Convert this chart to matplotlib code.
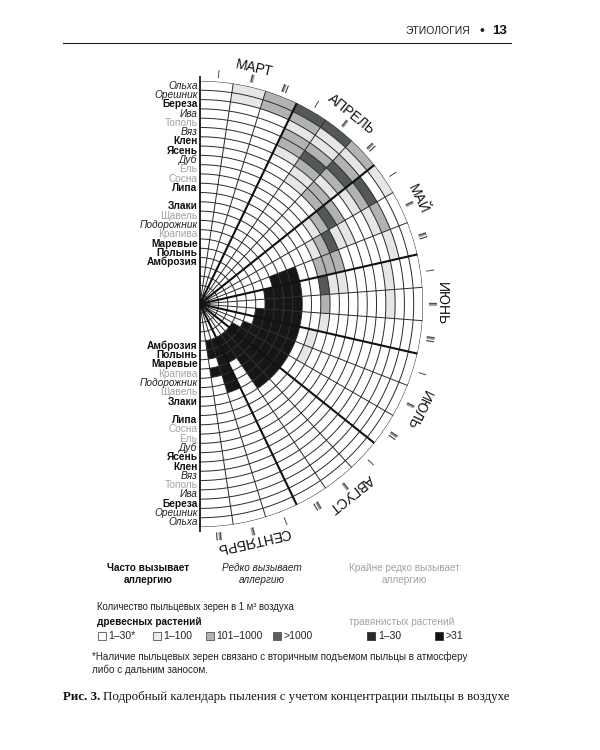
import numpy as np
import matplotlib
matplotlib.use('Agg')
import matplotlib.pyplot as plt
from matplotlib import transforms
from matplotlib.patches import Rectangle
from matplotlib.lines import Line2D

plt.rcParams['font.family'] = ['Liberation Sans', 'DejaVu Sans']

# ---------------- data ----------------
months = ['МАРТ', 'АПРЕЛЬ', 'МАЙ', 'ИЮНЬ', 'ИЮЛЬ', 'АВГУСТ', 'СЕНТЯБРЬ']
decade_names = ['I', 'II', 'III']

plants = ['Ольха', 'Орешник', 'Береза', 'Ива', 'Тополь', 'Вяз', 'Клен', 'Ясень',
          'Дуб', 'Ель', 'Сосна', 'Липа', '',
          'Злаки', 'Щавель', 'Подорожник', 'Крапива', 'Маревые', 'Полынь', 'Амброзия']
# b = often allergenic (bold), i = rarely (italic), g = very rarely (gray)
plant_style = ['i', 'i', 'b', 'i', 'g', 'i', 'b', 'b',
               'i', 'g', 'g', 'b', '',
               'b', 'g', 'i', 'g', 'b', 'b', 'b']

# pollen level per decade (March I ... September III)
# 0 none, 1 = 1-100, 2 = 101-1000, 3 = >1000 (trees); 4 = 1-30, 5 = >31 (grasses)
levels = {
    'Ольха':      [0, 1, 2, 3, 3, 2, 1, 0, 0, 0, 0, 0, 0, 0, 0, 0, 0, 0, 0, 0, 0],
    'Орешник':    [0, 1, 2, 2, 1, 1, 0, 0, 0, 0, 0, 0, 0, 0, 0, 0, 0, 0, 0, 0, 0],
    'Береза':     [0, 0, 0, 1, 1, 2, 3, 2, 1, 0, 0, 0, 0, 0, 0, 0, 0, 0, 0, 0, 0],
    'Ива':        [0, 0, 0, 2, 2, 3, 2, 1, 0, 1, 1, 0, 0, 0, 0, 0, 0, 0, 0, 0, 0],
    'Тополь':     [0, 0, 0, 2, 3, 2, 1, 0, 0, 0, 0, 0, 0, 0, 0, 0, 0, 0, 0, 0, 0],
    'Вяз':        [0, 0, 0, 1, 2, 1, 0, 0, 0, 0, 0, 0, 0, 0, 0, 0, 0, 0, 0, 0, 0],
    'Клен':       [0, 0, 0, 0, 1, 2, 2, 1, 0, 0, 0, 0, 0, 0, 0, 0, 0, 0, 0, 0, 0],
    'Ясень':      [0, 0, 0, 0, 1, 2, 3, 1, 0, 0, 0, 0, 0, 0, 0, 0, 0, 0, 0, 0, 0],
    'Дуб':        [0, 0, 0, 0, 0, 0, 2, 3, 2, 1, 0, 0, 0, 0, 0, 0, 0, 0, 0, 0, 0],
    'Ель':        [0, 0, 0, 0, 0, 0, 1, 2, 2, 1, 0, 0, 0, 0, 0, 0, 0, 0, 0, 0, 0],
    'Сосна':      [0, 0, 0, 0, 0, 0, 0, 1, 2, 3, 2, 1, 0, 0, 0, 0, 0, 0, 0, 0, 0],
    'Липа':       [0, 0, 0, 0, 0, 0, 0, 0, 0, 0, 0, 0, 1, 1, 0, 0, 0, 0, 0, 0, 0],
    '':           [0] * 21,
    'Злаки':      [0, 0, 0, 0, 0, 0, 0, 0, 5, 5, 5, 5, 5, 5, 5, 5, 5, 0, 0, 0, 0],
    'Щавель':     [0, 0, 0, 0, 0, 0, 0, 0, 5, 5, 5, 5, 5, 5, 5, 5, 5, 0, 5, 0, 0],
    'Подорожник': [0, 0, 0, 0, 0, 0, 0, 0, 5, 5, 5, 5, 5, 5, 5, 5, 5, 0, 5, 0, 0],
    'Крапива':    [0, 0, 0, 0, 0, 0, 0, 0, 0, 5, 5, 5, 5, 5, 5, 5, 5, 0, 5, 5, 0],
    'Маревые':    [0, 0, 0, 0, 0, 0, 0, 0, 0, 0, 0, 5, 5, 5, 5, 5, 5, 5, 5, 0, 0],
    'Полынь':     [0, 0, 0, 0, 0, 0, 0, 0, 0, 0, 0, 0, 0, 5, 5, 5, 5, 5, 5, 5, 0],
    'Амброзия':   [0, 0, 0, 0, 0, 0, 0, 0, 0, 0, 0, 0, 0, 0, 5, 5, 5, 5, 5, 5, 0],
}

level_colors = {1: '#e6e6e6', 2: '#b2b2b2', 3: '#535953', 4: '#262626', 5: '#161616'}
tree_legend = [('1–30*', '#ffffff'), ('1–100', '#ececec'), ('101–1000', '#b2b2b2'), ('>1000', '#5a605a')]
grass_legend = [('1–30', '#2a2a2a'), ('>31', '#111111')]

N_RING = 24
N_DEC = len(months) * 3
GRAY = '#a3a3a3'

# ---------------- figure ----------------
W, H = 600, 750
fig = plt.figure(figsize=(W / 100, H / 100), dpi=100)
fig.patch.set_facecolor('white')

def fx(x):
    return x / W

def fy(y):
    return 1 - y / H

cx, cy, R = 200, 304, 223
# the polar half-disk sits inside a square box of side 2R whose centre is at cx + R/2
ax = fig.add_axes([fx(cx - R / 2), fy(cy + R), 2 * R / W, 2 * R / H], projection='polar')
ax.set_theta_zero_location('N')
ax.set_theta_direction(-1)
ax.set_thetamin(0)
ax.set_thetamax(180)
ax.set_ylim(0, N_RING)
ax.axis('off')

dw = np.pi / N_DEC
# cells
for k, p in enumerate(plants):
    vals = levels[p]
    for d, v in enumerate(vals):
        if v:
            ax.bar((d + 0.5) * dw, 1, width=dw, bottom=N_RING - k - 1,
                   color=level_colors[v], edgecolor='none', linewidth=0, zorder=1)

# ring circles
th = np.linspace(0, np.pi, 400)
for r in range(1, N_RING + 1):
    ax.plot(th, np.full_like(th, r), color='#2a2a2a', lw=0.7, zorder=3)
# radial lines
for j in range(1, N_DEC):
    t = j * dw
    if j % 3 == 0:
        ax.plot([t, t], [0, N_RING], color='#111111', lw=1.5, zorder=4)
    else:
        ax.plot([t, t], [0, N_RING], color='#2a2a2a', lw=0.7, zorder=3)
# vertical axis
ax.plot([0, 0], [0, N_RING + 0.4], color='#111111', lw=1.3, zorder=5, clip_on=False)
ax.plot([np.pi, np.pi], [0, N_RING + 0.4], color='#111111', lw=1.3, zorder=5, clip_on=False)

# decade numerals and month names
for m, name in enumerate(months):
    for s, dn in enumerate(decade_names):
        t = (m * 3 + s + 0.5) * dw
        ax.text(t, N_RING + 0.75, dn, rotation=-np.degrees(t), rotation_mode='anchor',
                ha='center', va='center', fontsize=7, color='#222222')
    t = (m * 3 + 1.5) * dw
    ax.text(t, N_RING + 2.05, name, rotation=-np.degrees(t), rotation_mode='anchor',
            ha='center', va='center', fontsize=10, color='#111111')

# plant labels (top and bottom)
off = transforms.offset_copy(ax.transData, fig=fig, x=-2.5, y=0, units='dots')
for k, p in enumerate(plants):
    if not p:
        continue
    st = plant_style[k]
    kw = dict(fontsize=7.3, ha='right', va='center', transform=off)
    if st == 'b':
        kw.update(fontweight='bold', color='#111111')
    elif st == 'i':
        kw.update(style='italic', color='#222222')
    else:
        kw.update(color=GRAY)
    rc = N_RING - k - 0.5
    ax.text(0, rc, p, **kw)
    ax.text(np.pi, rc, p, **kw)

# ---------------- header ----------------
fig.add_artist(Line2D([fx(63), fx(511)], [fy(43), fy(43)], color='#222222', lw=0.8))
fig.text(fx(470), fy(31), 'ЭТИОЛОГИЯ', ha='right', va='center', fontsize=7.5, color='#222222')
fig.text(fx(482), fy(31), '•', ha='center', va='center', fontsize=10, color='#222222')
fig.text(fx(492), fy(31), '13', ha='left', va='center', fontsize=9.5, fontweight='bold', color='#111111')

# ---------------- legend ----------------
fig.text(fx(148), fy(574), 'Часто вызывает\nаллергию', ha='center', va='center',
         fontsize=7.2, fontweight='bold', color='#111111', linespacing=1.3)
fig.text(fx(262), fy(574), 'Редко вызывает\nаллергию', ha='center', va='center',
         fontsize=7.2, style='italic', color='#222222', linespacing=1.3)
fig.text(fx(404), fy(574), 'Крайне редко вызывает\nаллергию', ha='center', va='center',
         fontsize=7.2, color=GRAY, linespacing=1.3)
fig.text(fx(97), fy(607), 'Количество пыльцевых зерен в 1 м³ воздуха', ha='left', va='center',
         fontsize=6.9, color='#222222')
fig.text(fx(97), fy(622), 'древесных растений', ha='left', va='center',
         fontsize=7.2, fontweight='bold', color='#111111')
fig.text(fx(349), fy(622), 'травянистых растений', ha='left', va='center',
         fontsize=7.2, color=GRAY)

tree_x = [98, 153, 206, 273]
for (lab, col), x0 in zip(tree_legend, tree_x):
    fig.add_artist(Rectangle((fx(x0), fy(640)), 8 / W, 8 / H, facecolor=col,
                             edgecolor='#555555', lw=0.6))
    fig.text(fx(x0 + 10), fy(636), lab, ha='left', va='center', fontsize=7.5, color='#222222')
grass_x = [367, 435]
for (lab, col), x0 in zip(grass_legend, grass_x):
    fig.add_artist(Rectangle((fx(x0), fy(640)), 8 / W, 8 / H, facecolor=col,
                             edgecolor='#333333', lw=0.6))
    fig.text(fx(x0 + 11), fy(636), lab, ha='left', va='center', fontsize=7.5, color='#222222')

fig.text(fx(92), fy(663), '*Наличие пыльцевых зерен связано с вторичным подъемом пыльцы в атмосферу\n'
         'либо с дальним заносом.', ha='left', va='center', fontsize=7.1, color='#222222',
         linespacing=1.3)

# ---------------- caption ----------------
fig.text(fx(63), fy(697), 'Рис. 3.', ha='left', va='center', fontsize=9.25, fontweight='bold',
         family='Liberation Serif', color='#111111')
fig.text(fx(103), fy(697), 'Подробный календарь пыления с учетом концентрации пыльцы в воздухе',
         ha='left', va='center', fontsize=9.25, family='Liberation Serif', color='#111111')

fig.savefig('out.png', dpi=100)
